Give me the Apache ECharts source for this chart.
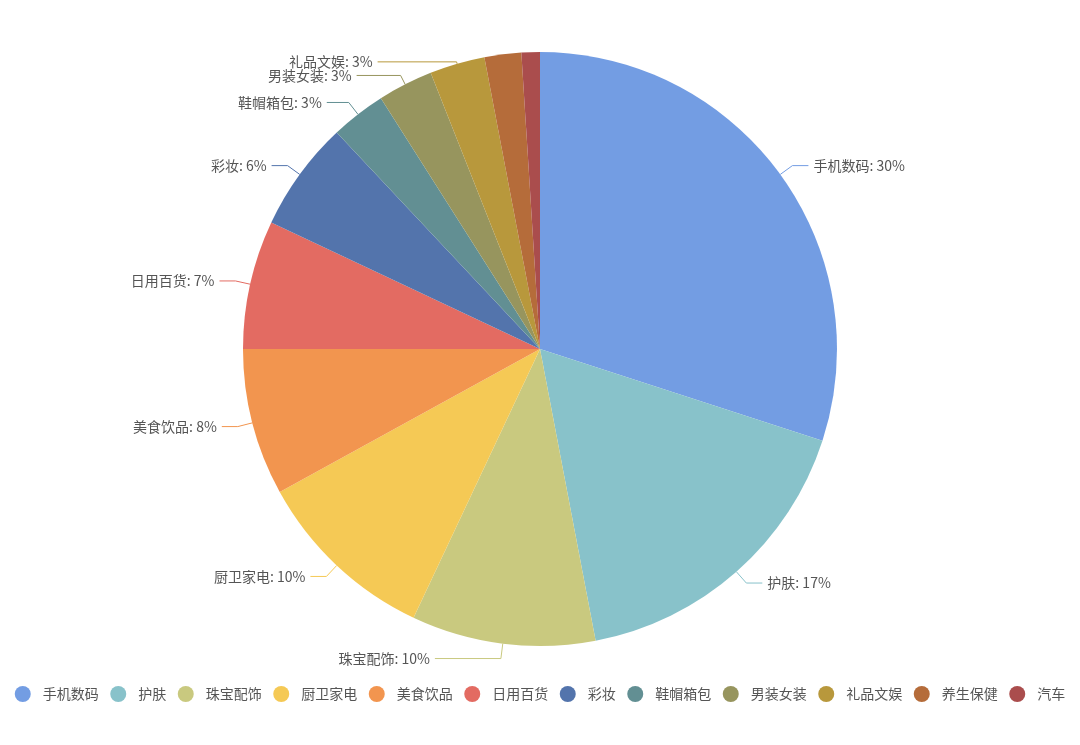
<!DOCTYPE html>
<html><head><meta charset="utf-8">
<script src="https://cdn.jsdelivr.net/npm/echarts@6/dist/echarts.min.js"></script>
<style>html,body{margin:0;padding:0;background:#fff}#c{width:1080px;height:745px}</style>
</head><body><div id="c"></div>
<script>
const categories = ['手机数码','护肤','珠宝配饰','厨卫家电','美食饮品','日用百货','彩妆','鞋帽箱包','男装女装','礼品文娱','养生保健','汽车'];
const values = [30,17,10,10,8,7,6,3,3,3,2,1];
const colors = ['#739DE3','#88C2CA','#C9C97F','#F5C955','#F2954F','#E36B62','#5374AC','#628F93','#97955E','#B8983C','#B56C3A','#AA4D4D'];

// label-line styling tweaks for crowded labels
const lineOverrides = {
  '珠宝配饰': {length:15, length2:66},
  '鞋帽箱包': {length:15, length2:22},
  '男装女装': {length:10, length2:44},
  '礼品文娱': {length:2, length2:79}
};

const chart = echarts.init(document.getElementById('c'));
chart.setOption({
  color: colors,
  textStyle:{fontFamily:'"Noto Sans CJK SC", sans-serif'},
  legend:{bottom:38, left:'center', icon:'circle', itemWidth:16, itemHeight:16, itemGap:11.5,
    textStyle:{fontSize:14, color:'#555', padding:[0,0,0,7], fontFamily:'"Noto Sans CJK SC", sans-serif'},
    data: categories},
  series:[{
    type:'pie', center:[540,349], radius:297, startAngle:90, clockwise:true,
    minShowLabelAngle:8, avoidLabelOverlap:false,
    labelLayout:{hideOverlap:false},
    label:{formatter:'{b}: {d}%', fontSize:14, lineHeight:14, color:'#555', fontFamily:'"Noto Sans CJK SC", sans-serif'},
    labelLine:{length:15, length2:16},
    data: categories.map((n,i)=>{
      const d = {name:n, value:values[i]};
      if (lineOverrides[n]) d.labelLine = lineOverrides[n];
      return d;
    })
  }]
});
</script></body></html>
